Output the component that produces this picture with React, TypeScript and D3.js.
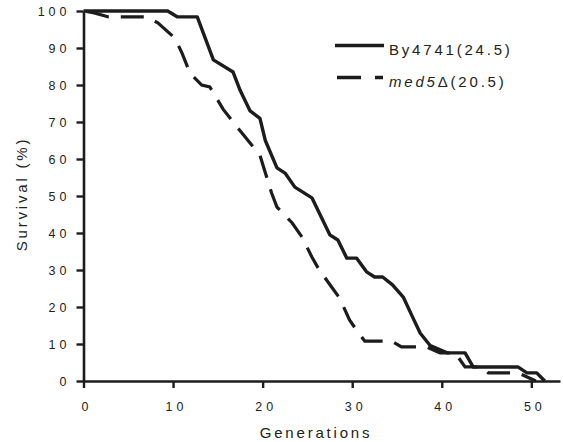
import React, { useEffect, useRef } from 'react';
import * as d3 from 'd3';

const width = 563;
const height = 442;

const genTicks = [0, 10, 20, 30, 40, 50];
const survivalTicks = [0, 10, 20, 30, 40, 50, 60, 70, 80, 90, 100];

// By4741 (wild type)
const by4741Gen = [0, 9.4, 10.5, 12.7, 14.5, 16.7, 17.5, 18.6, 19.7, 20.3, 21.6, 22.5, 23.6, 25.5, 27.5, 28.4, 29.4, 30.5, 31.6, 32.5, 33.4, 34.5, 35.7, 36.6, 37.6, 38.7, 40.6, 42.6, 43.5, 48.5, 49.5, 50.6, 51.5];
const by4741Surv = [100, 100, 98.4, 98.4, 86.8, 83.5, 78.5, 73, 71, 65, 57.6, 56.2, 52.4, 49.5, 39.5, 38.1, 33.2, 33.2, 29.5, 28.1, 28.1, 26, 22.7, 18, 12.9, 9.6, 7.6, 7.6, 3.8, 3.8, 2.2, 2.2, 0];

// med5 deletion
const med5Gen = [0, 1.2, 2.8, 7, 8.3, 10.2, 11, 11.9, 13.2, 14.1, 15.6, 17.1, 18.6, 19.7, 21, 21.6, 23.3, 24.4, 25.5, 26.2, 27.7, 28.6, 29.7, 30.7, 31.4, 34.4, 35.5, 38.3, 39.8, 41.5, 42.6, 44.5, 45.2, 48.5, 50.5];
const med5Surv = [100, 99.5, 98.4, 98.4, 96.8, 92.7, 88.6, 83.2, 80, 79.5, 73.4, 68.8, 64.3, 61, 50.8, 47, 42.7, 38.9, 33.5, 30.5, 25.4, 22.4, 16.5, 13, 10.8, 10.8, 9.2, 9.2, 7.6, 7.6, 3.8, 3.8, 2.2, 2.2, 0];

const font = '"Liberation Sans", Arial, sans-serif';
const ink = '#1c1c1c';

const App = () => {
    const d3svg = useRef(null);

    useEffect(() => {
        if (!d3svg.current) return;
        const svg = d3.select(d3svg.current);
        svg.selectAll('*').remove();

        const x = d3.scaleLinear().domain([0, 53.2]).range([83.5, 560]);
        const y = d3.scaleLinear().domain([0, 100]).range([381, 11]);

        // axes
        const xAxis = svg.append('g')
            .attr('transform', `translate(0,${y(0)})`)
            .call(d3.axisBottom(x).tickValues(genTicks).tickSize(7).tickSizeOuter(0).tickPadding(14));
        const yAxis = svg.append('g')
            .attr('transform', `translate(${x(0)},0)`)
            .call(d3.axisLeft(y).tickValues(survivalTicks).tickSize(7).tickSizeOuter(0).tickPadding(6));

        [xAxis, yAxis].forEach((a) => {
            a.select('.domain').attr('stroke', ink).attr('stroke-width', 2.6);
            a.selectAll('.tick line').attr('stroke', ink).attr('stroke-width', 2.4);
            a.selectAll('.tick text')
                .attr('fill', '#222')
                .style('font-family', font)
                .style('font-size', '12.5px')
                .style('letter-spacing', '4px');
        });
        xAxis.selectAll('.tick text').attr('dx', 3);

        // survival curves
        const line = d3.line().x((d) => x(d[0])).y((d) => y(d[1]));
        const med5 = med5Gen.map((g, i) => [g, med5Surv[i]]);
        const wt = by4741Gen.map((g, i) => [g, by4741Surv[i]]);

        svg.append('path')
            .attr('d', line(med5))
            .attr('fill', 'none')
            .attr('stroke', ink)
            .attr('stroke-width', 3.2)
            .attr('stroke-dasharray', '23,12')
            .attr('stroke-dashoffset', -3);

        svg.append('path')
            .attr('d', line(wt))
            .attr('fill', 'none')
            .attr('stroke', ink)
            .attr('stroke-width', 3.4)
            .attr('stroke-linejoin', 'round');

        // axis titles
        svg.append('text')
            .attr('x', 316)
            .attr('y', 438)
            .attr('text-anchor', 'middle')
            .attr('fill', '#222')
            .style('font-family', font)
            .style('font-size', '15px')
            .style('letter-spacing', '2.8px')
            .text('Generations');

        svg.append('text')
            .attr('transform', 'translate(27,194) rotate(-90)')
            .attr('text-anchor', 'middle')
            .attr('fill', '#222')
            .style('font-family', font)
            .style('font-size', '15px')
            .style('letter-spacing', '2.8px')
            .text('Survival (%)');

        // legend
        const legend = svg.append('g');
        legend.append('line')
            .attr('x1', 335).attr('x2', 384).attr('y1', 45.5).attr('y2', 45.5)
            .attr('stroke', ink).attr('stroke-width', 3.6);
        legend.append('line')
            .attr('x1', 337).attr('x2', 383).attr('y1', 77.5).attr('y2', 77.5)
            .attr('stroke', ink).attr('stroke-width', 3.6)
            .attr('stroke-dasharray', '24,14');

        legend.append('text')
            .attr('x', 389).attr('y', 55)
            .attr('fill', '#222')
            .style('font-family', font)
            .style('font-size', '15px')
            .style('letter-spacing', '2.8px')
            .text('By4741(24.5)');

        const t2 = legend.append('text')
            .attr('x', 389).attr('y', 87)
            .attr('fill', '#222')
            .style('font-family', font)
            .style('font-size', '15px')
            .style('letter-spacing', '2.8px');
        t2.append('tspan').style('font-style', 'italic').text('med5');
        t2.append('tspan').text('Δ(20.5)');
    }, []);

    return (
        <svg width={width} height={height} ref={d3svg}
            style={{ position: 'absolute', left: 0, top: 0, background: '#fff' }}></svg>
    );
};

export default App;
